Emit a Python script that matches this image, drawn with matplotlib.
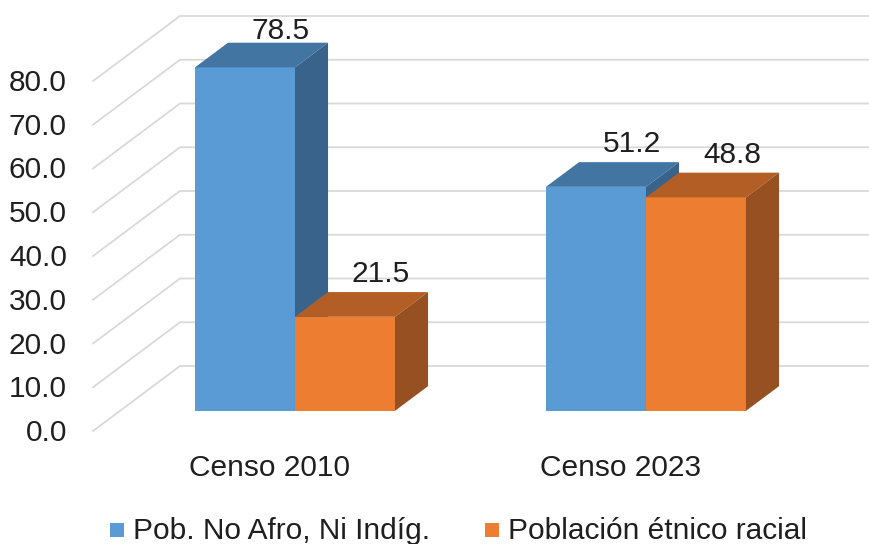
import matplotlib
matplotlib.use('Agg')
import matplotlib.pyplot as plt
from matplotlib.patches import Polygon, Rectangle

# data
categories = ['Censo 2010', 'Censo 2023']
series_names = ['Pob. No Afro, Ni Indíg.', 'Población étnico racial']
pob_no_afro = [78.5, 51.2]
pob_etnico = [21.5, 48.8]
yticks = [0, 10, 20, 30, 40, 50, 60, 70, 80]

# colours: front, top, side
colors = [('#5B9BD5', '#4375A3', '#3A638C'),
          ('#ED7D31', '#B25E24', '#965021')]

# 3d-ish projection, in pixels of the 870x544 picture
x0, y0 = 93, 431          # front-left corner of the floor (value 0)
ppu = 4.375               # pixels per unit
ddx, ddy = 87, 65         # full wall depth offset
d_front, d_back = 0.31, 0.69   # bar depth range
bar_w = 100
cat_x = [268, 619]        # cluster centres on the front plane

def proj(x, v, d):
    return (x + d * ddx, y0 - v * ppu - d * ddy)

fig = plt.figure(figsize=(8.7, 5.44), dpi=100)
ax = fig.add_axes([0, 0, 1, 1])
ax.set_xlim(0, 870)
ax.set_ylim(544, 0)
ax.axis('off')

plt.rcParams['font.family'] = ['Liberation Sans', 'DejaVu Sans']
fs = 21.5
tc = '#1f1f1f'

# gridlines: left wall diagonal + back wall horizontal
for t in yticks:
    fx, fy = proj(x0, t, 0)
    bx, by = proj(x0, t, 1)
    ax.plot([fx, bx, 870], [fy, by, by], color='#d9d9d9', lw=1.3, zorder=1)
    ax.text(67, fy + 10, '%.1f' % t, ha='right', va='baseline', fontsize=fs, color=tc)

# bars
for i, cx in enumerate(cat_x):
    vals = [pob_no_afro[i], pob_etnico[i]]
    for s, v in enumerate(vals):
        left = cx - bar_w + s * bar_w
        right = left + bar_w
        fc, tcol, sc = colors[s]
        bl = proj(left, 0, d_front)
        tl = proj(left, v, d_front)
        tr = proj(right, v, d_front)
        br = proj(right, 0, d_front)
        tlb = proj(left, v, d_back)
        trb = proj(right, v, d_back)
        brb = proj(right, 0, d_back)
        ax.add_patch(Polygon([bl, tl, tr, br], closed=True, facecolor=fc, edgecolor='none', zorder=2))
        ax.add_patch(Polygon([tl, tlb, trb, tr], closed=True, facecolor=tcol, edgecolor='none', zorder=2))
        ax.add_patch(Polygon([br, tr, trb, brb], closed=True, facecolor=sc, edgecolor='none', zorder=2))
        lx = (left + right) / 2 + d_back * ddx + 3
        ly = max(trb[1] - 10, 39)
        ax.text(lx, ly, '%.1f' % v, ha='center', va='baseline', fontsize=fs, color=tc, zorder=3)
    ax.text(cx + 2, 476, categories[i], ha='center', va='baseline', fontsize=fs, color=tc)

# legend
leg_x = [110, 485]
for s, name in enumerate(series_names):
    ax.add_patch(Rectangle((leg_x[s], 523), 14, 14, facecolor=colors[s][0], edgecolor='none'))
    ax.text(leg_x[s] + 23, 539, name, ha='left', va='baseline', fontsize=fs, color=tc)

fig.savefig('out.png', dpi=100)
